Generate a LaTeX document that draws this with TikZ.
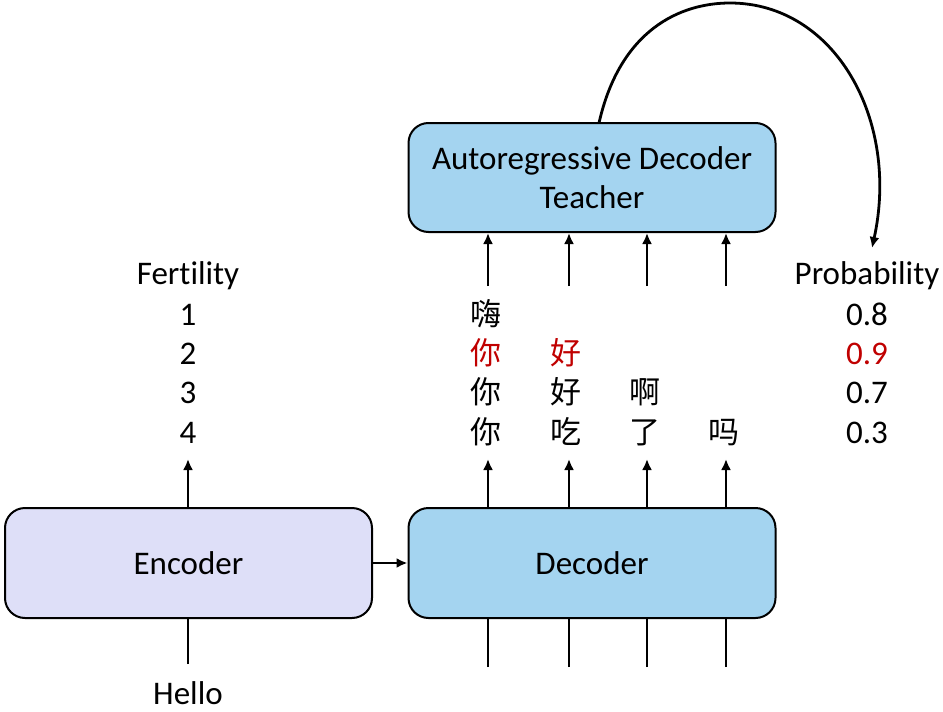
\documentclass[tikz,border=0pt]{standalone}
\usepackage{fontspec}
\setmainfont{Carlito}[Ligatures=NoCommon]
\newfontfamily\cjk{Noto Sans CJK SC}
\usetikzlibrary{arrows.meta}
\definecolor{encfill}{HTML}{DEDFF8}
\definecolor{decfill}{HTML}{A4D4F0}
\definecolor{redtxt}{HTML}{C00000}
\begin{document}
\begin{tikzpicture}[x=1pt,y=-1pt,
  box/.style={draw=black,line width=2pt,rounded corners=20pt,minimum width=367pt,minimum height=110pt,inner sep=0pt,align=center,font=\fontsize{33}{39}\selectfont},
  lbl/.style={anchor=base,inner sep=0pt,font=\fontsize{33}{39}\selectfont},
  zh/.style={lbl,font=\fontsize{31}{39}\selectfont\cjk},
  arr/.style={line width=2.8pt,-{Latex[length=11pt,width=10pt]}},
  ln/.style={line width=2.8pt}]
\useasboundingbox (0,0) rectangle (943,712);
% boxes
\node[box,fill=encfill] (enc) at (188.5,563) {Encoder};
\node[box,fill=decfill] (dec) at (592,563) {Decoder};
\node[box,fill=decfill,minimum height=109pt] (tea) at (592,177.5) {Autoregressive Decoder\\Teacher};
% encoder connections
\draw[arr] (enc.east) -- (dec.west);
\coordinate (fup) at (188,459);
\draw[arr] (enc.north -| fup) -- (fup);
\coordinate (hin) at (188,664);
\draw[ln] (hin) -- (enc.south -| hin);
\node[lbl] (hello) at (188,704) {Hello};
% fertility
\node[lbl] (fert) at (188,284) {Fertility};
\node[lbl] (f1) at (188,325) {1};
\node[lbl] (f2) at (188,364) {2};
\node[lbl] (f3) at (188,403) {3};
\node[lbl] (f4) at (188,443) {4};
% probability
\node[lbl] (prob) at (867,284) {Probability};
\node[lbl] (p1) at (867,325) {0.8};
\node[lbl,text=redtxt] (p2) at (867,364) {0.9};
\node[lbl] (p3) at (867,403) {0.7};
\node[lbl] (p4) at (867,443) {0.3};
% decoder columns
\foreach \i/\x in {1/488,2/569,3/647,4/726}{
  \coordinate (dt\i) at (\x,459);
  \coordinate (db\i) at (\x,667);
  \coordinate (tb\i) at (\x,286);
  \draw[arr] (dec.north -| dt\i) -- (dt\i);
  \draw[ln] (db\i) -- (dec.south -| db\i);
  \draw[arr] (tb\i) -- (tea.south -| tb\i);
}
% chinese tokens
\node[zh] (a1) at (486,325) {嗨};
\node[zh,text=redtxt] (b1) at (486,364) {你};
\node[zh,text=redtxt] (b2) at (566,364) {好};
\node[zh] (c1) at (486,403) {你};
\node[zh] (c2) at (566,403) {好};
\node[zh] (c3) at (645,403) {啊};
\node[zh] (d1) at (486,443) {你};
\node[zh] (d2) at (566,443) {吃};
\node[zh] (d3) at (645,443) {了};
\node[zh] (d4) at (724,443) {吗};
% feedback curve
\coordinate (cs) at (599,123);
\coordinate (ce) at (872,248);
\draw[arr] (cs) .. controls (620,30) and (680,3) .. (730,3)
  .. controls (835,3) and (900,120) .. (ce);
\end{tikzpicture}
\end{document}
